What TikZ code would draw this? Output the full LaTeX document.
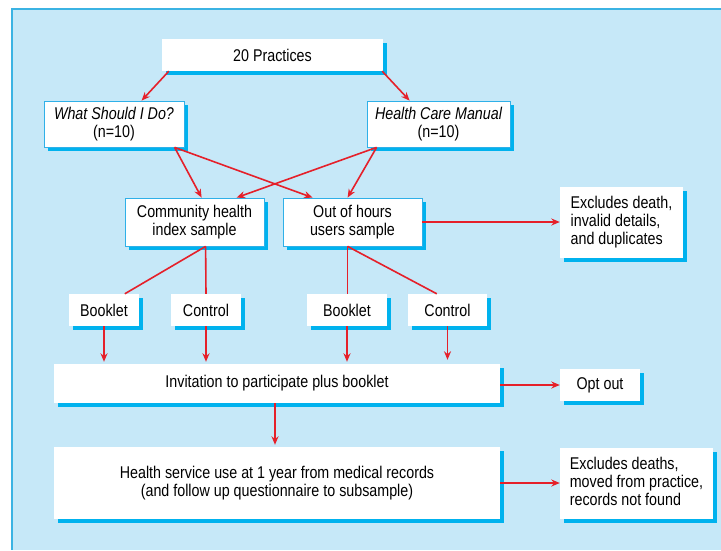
\documentclass[tikz,border=0pt]{standalone}
\usepackage{fontspec}
\setmainfont{Liberation Sans}[FakeStretch=0.84]
\usetikzlibrary{calc,arrows.meta,shadows}
\definecolor{bgc}{HTML}{C6E8F8}
\definecolor{framec}{HTML}{3BB3E3}
\definecolor{shadowc}{HTML}{00B2EE}
\definecolor{edgec}{HTML}{2FB0E8}
\definecolor{redc}{HTML}{E5202A}
\newcommand{\fnt}{\fontsize{17}{18}\selectfont}
\tikzset{
  box/.style={fill=white, inner sep=0pt, align=center, font=\fnt,
    general shadow={fill=shadowc, shadow xshift=4pt, shadow yshift=-4pt}},
  obox/.style={box, draw=edgec, line width=0.8pt},
  conn/.style={draw=redc, line width=1.6pt},
  arr/.style={conn, -{Stealth[length=8.5pt,width=7pt]}},
}
\begin{document}
\begin{tikzpicture}[x=1pt,y=-1pt]
\useasboundingbox (0,0) rectangle (721,550);
\fill[bgc] (12,9) rectangle (721,550);
\draw[framec, line width=1.6pt] (721,9) -- (12,9) -- (12,550);

\node[box, minimum width=221, minimum height=32] (prac) at (272.5,55) {20 Practices};
\node[obox, minimum width=140, minimum height=46] (wsid) at (114,124) {\itshape What Should I Do?\\(n=10)};
\node[obox, minimum width=143, minimum height=46] (hcm) at (438.5,124) {\itshape Health Care Manual\\(n=10)};
\node[obox, minimum width=139, minimum height=48] (chi) at (194.5,222) {Community health\\index sample};
\node[obox, minimum width=139, minimum height=48] (ooh) at (352.5,222) {Out of hours\\users sample};
\node[box, minimum width=123, minimum height=71] (exc1) at (621.5,222.5) {\begin{tabular}{@{}l@{}}Excludes death,\\invalid details,\\and duplicates\end{tabular}};
\node[box, minimum width=70, minimum height=32] (b1) at (104,310) {Booklet};
\node[box, minimum width=70, minimum height=32] (c1) at (206,310) {Control};
\node[box, minimum width=80, minimum height=32] (b2) at (347,310) {Booklet};
\node[box, minimum width=79, minimum height=32] (c2) at (447.5,310) {Control};
\node[box, minimum width=446, minimum height=39] (inv) at (277,383.5) {Invitation to participate plus booklet};
\node[box, minimum width=80, minimum height=32] (opt) at (600,385) {Opt out};
\node[box, minimum width=446, minimum height=72] (hs) at (277,483) {Health service use at 1 year from medical records\\(and follow up questionnaire to subsample)};
\node[box, minimum width=153, minimum height=71] (exc2) at (636.5,483.5) {\begin{tabular}{@{}l@{}}Excludes deaths,\\moved from practice,\\records not found\end{tabular}};

\coordinate (pracL) at ($(prac.south west)+(7,0)$);
\coordinate (pracR) at ($(prac.south east)+(-1,0)$);
\coordinate (wsidS) at ($(wsid.south west)+(131,0)$);
\coordinate (hcmS) at ($(hcm.south west)+(10,0)$);
\coordinate (chiS) at ($(chi.south west)+(81,0)$);
\coordinate (oohS) at ($(ooh.south west)+(65,0)$);
\coordinate (invS) at ($(inv.south)+(-2,0)$);

\draw[arr] (pracL) -- ($(wsid.north west)+(98,0)$);
\draw[arr] (pracR) -- ($(hcm.north west)+(43,0)$);
\draw[arr] (wsidS) -- ($(chi.north west)+(77,0)$);
\draw[arr] (wsidS) -- ($(ooh.north west)+(30,0)$);
\draw[arr] (hcmS) -- ($(chi.north west)+(112,0)$);
\draw[arr] (hcmS) -- ($(ooh.north west)+(65,0)$);
\draw[arr] (ooh.east) -- (ooh.east -| exc1.west);

\draw[conn] (chiS) -- ($(b1.north west)+(56,0)$);
\draw[conn] (chiS) -- (c1.north);
\draw[conn] (oohS) -- (oohS |- b2.north);
\draw[conn] (oohS) -- ($(c2.north west)+(29,0)$);

\draw[arr, shorten >=2pt] (b1.south) -- (b1.south |- inv.north);
\draw[arr, shorten >=2pt] (c1.south) -- (c1.south |- inv.north);
\draw[arr, shorten >=2pt] (b2.south) -- (b2.south |- inv.north);
\draw[arr, shorten >=4pt] (c2.south) -- (c2.south |- inv.north);
\draw[arr] (inv.east |- opt.west) -- (opt.west);
\draw[arr, shorten >=2pt] (invS) -- (invS |- hs.north);
\draw[arr] (hs.east) -- (hs.east -| exc2.west);
\end{tikzpicture}
\end{document}
